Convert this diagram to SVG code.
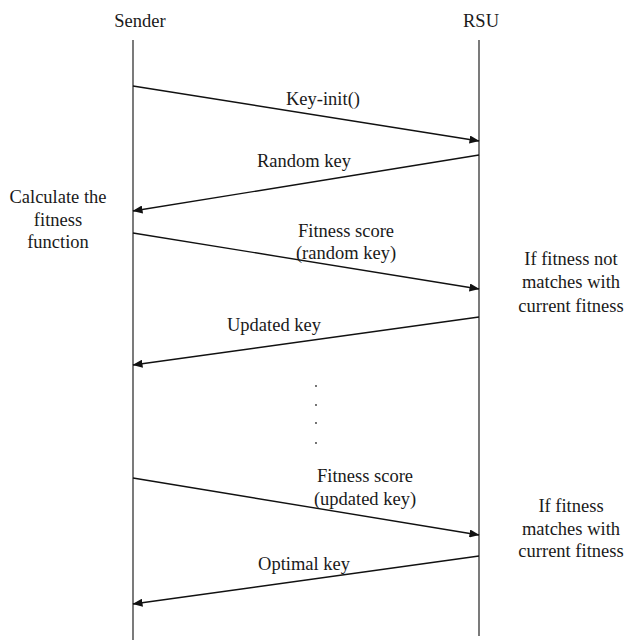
<svg xmlns="http://www.w3.org/2000/svg" width="628" height="640" viewBox="0 0 628 640">
  <style>
    text { font-family: "Liberation Serif", "Times New Roman", serif; font-size: 18.5px; fill: #1a1a1a; text-anchor: middle; }
    .life { stroke: #333; stroke-width: 1.3; fill: none; }
    .msg { stroke: #111; stroke-width: 1.4; fill: none; marker-end: url(#arrow); }
  </style>
  <defs>
    <marker id="arrow" markerWidth="10" markerHeight="8" refX="9.5" refY="4" orient="auto" markerUnits="userSpaceOnUse">
      <path d="M0,0 L10,4 L0,8 Z" fill="#111"/>
    </marker>
  </defs>

  <g id="sender">
    <text x="140" y="27">Sender</text>
    <line class="life" x1="133" y1="40" x2="133" y2="640"/>
  </g>
  <g id="rsu">
    <text x="481" y="27">RSU</text>
    <line class="life" x1="479" y1="40" x2="479" y2="636"/>
  </g>

  <g id="note-calc">
    <text x="58" y="203">Calculate the</text>
    <text x="58" y="226">fitness</text>
    <text x="58" y="248">function</text>
  </g>
  <g id="note-nomatch">
    <text x="571" y="265">If fitness not</text>
    <text x="571" y="288">matches with</text>
    <text x="571" y="312">current fitness</text>
  </g>
  <g id="note-match">
    <text x="571" y="512">If fitness</text>
    <text x="571" y="535">matches with</text>
    <text x="571" y="557">current fitness</text>
  </g>

  <g id="connectors">
    <line class="msg" x1="133" y1="86" x2="479" y2="141"/>
    <line class="msg" x1="479" y1="155" x2="133" y2="211"/>
    <line class="msg" x1="133" y1="233" x2="479" y2="289"/>
    <line class="msg" x1="479" y1="317" x2="133" y2="365"/>
    <line class="msg" x1="133" y1="478" x2="479" y2="535"/>
    <line class="msg" x1="479" y1="556" x2="133" y2="604"/>
  </g>

  <g id="labels">
    <text x="323" y="105">Key-init()</text>
    <text x="304" y="167">Random key</text>
    <text x="346" y="237">Fitness score</text>
    <text x="346" y="259">(random key)</text>
    <text x="274" y="331">Updated key</text>
    <text x="365" y="482">Fitness score</text>
    <text x="365" y="505">(updated key)</text>
    <text x="304" y="570">Optimal key</text>
  </g>

  <g id="ellipsis" fill="#333">
    <circle cx="316" cy="386" r="0.9"/>
    <circle cx="316" cy="405" r="0.9"/>
    <circle cx="316" cy="423" r="0.9"/>
    <circle cx="316" cy="443" r="0.9"/>
  </g>
</svg>
